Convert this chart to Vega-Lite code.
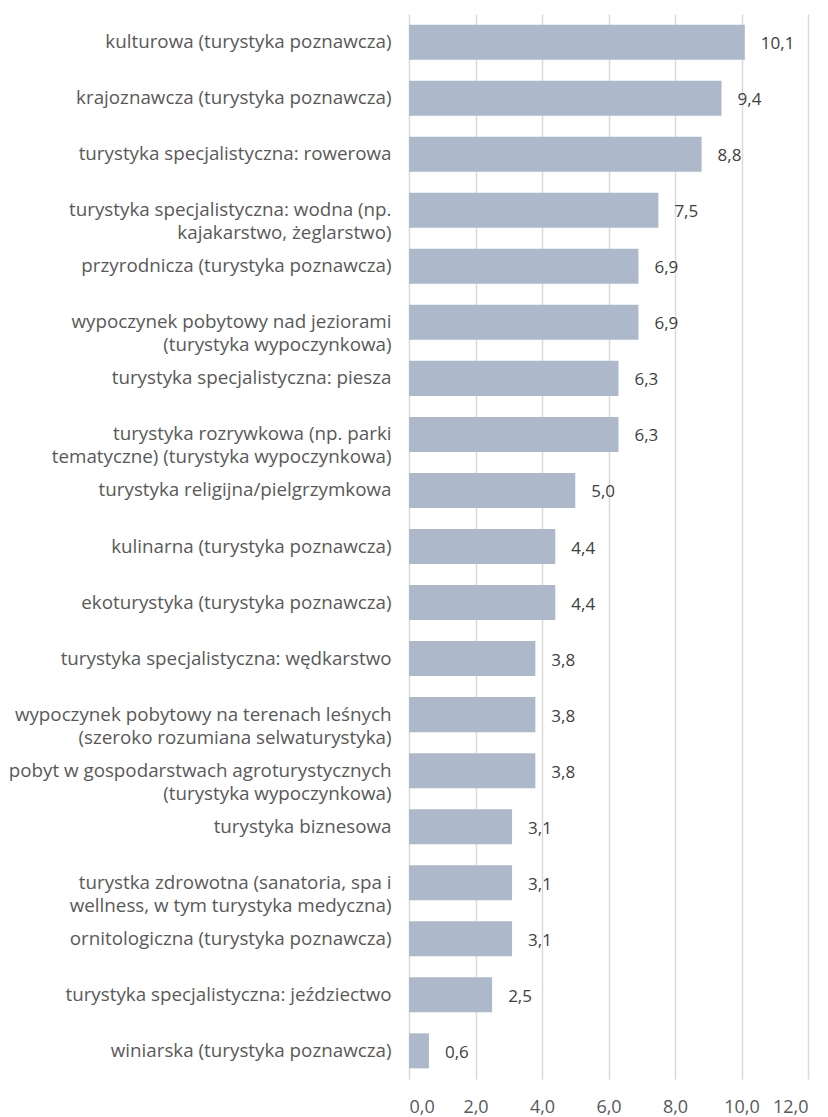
{
  "$schema": "https://vega.github.io/schema/vega-lite/v6.json",
  "width": 399,
  "height": 1065,
  "autosize": {"type": "none"},
  "padding": {"left": 409, "top": 14, "right": 20, "bottom": 38},
  "config": {
    "view": {"stroke": null},
    "font": "Open Sans",
    "locale": {"number": {"decimal": ",", "thousands": " ", "grouping": [3], "currency": ["", " zł"]}}
  },
  "data": {
    "values": [
      {"k": "kulturowa (turystyka poznawcza)", "v": 10.1},
      {"k": "krajoznawcza (turystyka poznawcza)", "v": 9.4},
      {"k": "turystyka specjalistyczna: rowerowa", "v": 8.8},
      {"k": "turystyka specjalistyczna: wodna (np.|kajakarstwo, żeglarstwo)", "v": 7.5},
      {"k": "przyrodnicza (turystyka poznawcza)", "v": 6.9},
      {"k": "wypoczynek pobytowy nad jeziorami|(turystyka  wypoczynkowa)", "v": 6.9},
      {"k": "turystyka specjalistyczna: piesza", "v": 6.3},
      {"k": "turystyka rozrywkowa (np. parki|tematyczne) (turystyka wypoczynkowa)", "v": 6.3},
      {"k": "turystyka religijna/pielgrzymkowa", "v": 5.0},
      {"k": "kulinarna (turystyka poznawcza)", "v": 4.4},
      {"k": "ekoturystyka (turystyka poznawcza)", "v": 4.4},
      {"k": "turystyka specjalistyczna: wędkarstwo", "v": 3.8},
      {"k": "wypoczynek pobytowy na terenach leśnych|(szeroko rozumiana selwaturystyka)", "v": 3.8},
      {"k": "pobyt w gospodarstwach agroturystycznych|(turystyka wypoczynkowa)", "v": 3.8},
      {"k": "turystyka biznesowa", "v": 3.1},
      {"k": "turystka zdrowotna (sanatoria, spa i|wellness, w tym turystyka medyczna)", "v": 3.1},
      {"k": "ornitologiczna (turystyka  poznawcza)", "v": 3.1},
      {"k": "turystyka specjalistyczna: jeździectwo", "v": 2.5},
      {"k": "winiarska (turystyka poznawcza)", "v": 0.6}
    ]
  },
  "encoding": {
    "y": {
      "field": "k",
      "type": "nominal",
      "sort": null,
      "scale": {"paddingInner": 0.375, "paddingOuter": 0.19},
      "axis": {
        "title": null,
        "domain": false,
        "ticks": false,
        "labelExpr": "split(datum.value, '|')",
        "labelFontSize": 18.8,
        "labelColor": "#595959",
        "labelPadding": 18,
        "labelLineHeight": 23,
        "labelLimit": 420
      }
    }
  },
  "layer": [
    {
      "mark": {"type": "bar", "color": "#adb9ca"},
      "encoding": {
        "x": {
          "field": "v",
          "type": "quantitative",
          "scale": {"domain": [0, 12], "nice": false},
          "axis": {
            "title": null,
            "values": [0, 2, 4, 6, 8, 10, 12],
            "format": ".1f",
            "domain": false,
            "ticks": false,
            "grid": true,
            "gridColor": "#d9d9d9",
            "gridWidth": 1.5,
            "labelFontSize": 18,
            "labelColor": "#595959",
            "labelPadding": 19
          }
        }
      }
    },
    {
      "mark": {"type": "text", "align": "left", "baseline": "middle", "dx": 16, "dy": 2, "fontSize": 17, "color": "#404040"},
      "encoding": {
        "x": {"field": "v", "type": "quantitative"},
        "text": {"field": "v", "type": "quantitative", "format": ".1f"}
      }
    }
  ]
}
